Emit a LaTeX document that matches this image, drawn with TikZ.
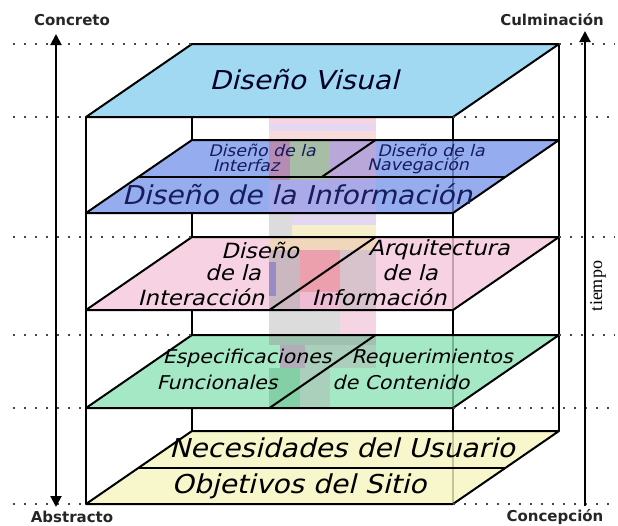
\documentclass[tikz,border=0pt]{standalone}
\usepackage{fontspec}
\setmainfont{DejaVu Sans}
\newfontfamily\planefont[FakeSlant=0.25,FakeStretch=1.08]{DejaVu Sans}
\newfontfamily\labelfont{DejaVu Sans}
\newfontfamily\timefont{Liberation Serif}
\usetikzlibrary{arrows.meta,calc}

% layer colours
\definecolor{visualblue}{RGB}{137,208,240}
\definecolor{infoblue}{RGB}{122,152,234}
\definecolor{interpink}{RGB}{245,199,219}
\definecolor{specgreen}{RGB}{143,226,182}
\definecolor{needyellow}{RGB}{245,245,190}
\definecolor{navytext}{RGB}{22,28,92}

% colours of the strip running down through the layers
\definecolor{sPink}{RGB}{232,160,196}
\definecolor{sLav}{RGB}{196,166,226}
\definecolor{sPeach}{RGB}{240,176,176}
\definecolor{sRed}{RGB}{224,100,110}
\definecolor{sLime}{RGB}{190,210,80}
\definecolor{sGray}{RGB}{150,150,150}
\definecolor{sLgray}{RGB}{178,178,178}
\definecolor{sYel}{RGB}{232,220,140}
\definecolor{sBlue}{RGB}{90,90,200}
\definecolor{sPurp}{RGB}{190,100,170}
\definecolor{sGreen}{RGB}{90,180,130}

% corners of one layer: name, y of its front edge
\newcommand\layercorners[2]{%
  \coordinate (#1fl) at (86,#2);
  \coordinate (#1fr) at (453,#2);
  \coordinate (#1br) at (559,#2-73);
  \coordinate (#1bl) at (192,#2-73);
}

\begin{document}
\begin{tikzpicture}[x=1pt,y=-1pt,
  layer/.style={draw=black, line width=2pt, line join=round},
  layerfill/.style={fill opacity=0.8},
  edge/.style={draw=black, line width=1.6pt},
  guide/.style={draw=black!72, line width=2.6pt, dash pattern=on 2.4pt off 8.6pt},
  strip/.style={opacity=0.45},
  bothtips/.style={line width=2pt,
    {Triangle[length=11pt,width=11pt]}-{Triangle[length=11pt,width=11pt]}},
  uptip/.style={line width=2pt, -{Triangle[length=11pt,width=11pt]}},
  tag/.style={font=\labelfont\bfseries\fontsize{15}{17}\selectfont,
    text=black!85, inner sep=0pt},
  bigtxt/.style={font=\planefont\fontsize{26}{28}\selectfont, inner sep=0pt},
  midtxt/.style={font=\planefont\fontsize{21}{23}\selectfont, inner sep=0pt},
  greentxt/.style={font=\planefont\fontsize{19}{21}\selectfont, inner sep=0pt},
  smalltxt/.style={font=\planefont\fontsize{16}{18}\selectfont, inner sep=0pt,
    text=navytext},
]
\useasboundingbox (0,0) rectangle (618,525);

\layercorners{a}{117}
\layercorners{b}{213}
\layercorners{c}{310}
\layercorners{d}{408}
\layercorners{e}{504}

% half-way lines and split points
\coordinate (bml) at ($(bfl)!0.5!(bbl)$);
\coordinate (bmr) at ($(bfr)!0.5!(bbr)$);
\coordinate (bmc) at ($(bml)!0.5!(bmr)$);
\coordinate (bbc) at ($(bbl)!0.5!(bbr)$);
\coordinate (cfc) at ($(cfl)!0.5!(cfr)$);
\coordinate (cbc) at ($(cbl)!0.5!(cbr)$);
\coordinate (dfc) at ($(dfl)!0.5!(dfr)$);
\coordinate (dbc) at ($(dbl)!0.5!(dbr)$);
\coordinate (eml) at ($(efl)!0.5!(ebl)$);
\coordinate (emr) at ($(efr)!0.5!(ebr)$);

% hidden back edge, seen only between the layers
\coordinate (k1) at (192,117);
\coordinate (k2) at (192,213);
\coordinate (k3) at (192,310);
\coordinate (k4) at (192,408);
\draw[edge] (k1) -- (bbl);
\draw[edge] (k2) -- (cbl);
\draw[edge] (k3) -- (dbl);
\draw[edge] (k4) -- (ebl);
\draw[edge] (abr) -- (ebr);
\draw[edge] (afr) -- (efr);

% layer fills
\fill[visualblue, layerfill] (afl) -- (afr) -- (abr) -- (abl) -- cycle;
\fill[infoblue, layerfill] (bfl) -- (bfr) -- (bbr) -- (bbl) -- cycle;
\fill[interpink, layerfill] (cfl) -- (cfr) -- (cbr) -- (cbl) -- cycle;
\fill[specgreen, layerfill] (dfl) -- (dfr) -- (dbr) -- (dbl) -- cycle;
\fill[needyellow, layerfill] (efl) -- (efr) -- (ebr) -- (ebl) -- cycle;

% colour strip, built from blocks
\begin{scope}[strip]
  \fill[sPink]  (269,117) rectangle (376,124);
  \fill[sLav]   (269,124) rectangle (376,131);
  \fill[sPeach] (269,131) rectangle (376,141);
  \fill[sRed]   (269,141) rectangle (290,180);
  \fill[sLime]  (290,141) rectangle (330,180);
  \fill[sPink]  (330,141) rectangle (376,180);
  \fill[sLav]   (269,180) rectangle (376,213);
  \fill[sLgray] (269,213) rectangle (292,237);
  \fill[sLav]   (292,213) rectangle (376,225);
  \fill[sYel]   (292,225) rectangle (376,237);
  \fill[sYel]   (269,237) rectangle (376,250);
  \fill[sGray]  (269,250) rectangle (300,310);
  \fill[sBlue]  (269,262) rectangle (276,296);
  \fill[sRed]   (300,250) rectangle (340,292);
  \fill[sLgray] (340,250) rectangle (376,310);
  \fill[sPink]  (300,292) rectangle (340,310);
  \fill[sLgray] (269,310) rectangle (340,335);
  \fill[sPink]  (340,310) rectangle (376,335);
  \fill[sGray]  (269,335) rectangle (376,345);
  \fill[sPurp]  (280,345) rectangle (305,368);
  \fill[sLgray] (305,345) rectangle (376,368);
  \fill[sGreen] (269,368) rectangle (300,408);
  \fill[sLgray] (300,368) rectangle (330,408);
\end{scope}

% layer outlines and dividers
\draw[layer] (afl) -- (afr) -- (abr) -- (abl) -- cycle;
\draw[layer] (bfl) -- (bfr) -- (bbr) -- (bbl) -- cycle;
\draw[layer] (bml) -- (bmr);
\draw[layer] (bmc) -- (bbc);
\draw[layer] (cfl) -- (cfr) -- (cbr) -- (cbl) -- cycle;
\draw[layer] (cfc) -- (cbc);
\draw[layer] (dfl) -- (dfr) -- (dbr) -- (dbl) -- cycle;
\draw[layer] (dfc) -- (dbc);
\draw[layer] (efl) -- (efr) -- (ebr) -- (ebl) -- cycle;
\draw[layer] (eml) -- (emr);

% front edge of the box
\draw[edge] (afl) -- (efl);

% dotted level guides
\coordinate (gl1) at (13,44);   \coordinate (gr1) at (615,44);
\coordinate (gl2) at (13,117);  \coordinate (gr2) at (615,117);
\coordinate (gl3) at (13,237);  \coordinate (gr3) at (615,237);
\coordinate (gl4) at (13,335);  \coordinate (gr4) at (615,335);
\coordinate (gl5) at (13,408);  \coordinate (gr5) at (615,408);
\coordinate (gl6) at (13,504);  \coordinate (gr6) at (615,504);
\draw[guide] (gl1) -- (abl);  \draw[guide] (abr) -- (gr1);
\draw[guide] (gl2) -- (afl);  \draw[guide] (afr) -- (gr2);
\draw[guide] (gl3) -- (cbl);  \draw[guide] (cbr) -- (gr3);
\draw[guide] (gl4) -- (dbl);  \draw[guide] (dbr) -- (gr4);
\draw[guide] (gl5) -- (dfl);  \draw[guide] (dfr) -- (gr5);
\draw[guide] (gl6) -- (efl);  \draw[guide] (efr) -- (gr6);

% axes
\coordinate (ltop) at (56,34);
\coordinate (lbot) at (56,507);
\coordinate (rtop) at (585,31);
\coordinate (rbot) at (585,506);
\draw[bothtips] (lbot) -- (ltop);
\draw[uptip] (rbot) -- (rtop);

\node[tag] (concreto) at (72,20) {Concreto};
\node[tag] (culmina) at (552,20) {Culminación};
\node[tag] (abstracto) at (72,517) {Abstracto};
\node[tag] (concepcion) at (555,517) {Concepción};
\node[rotate=90, font=\timefont\fontsize{18}{20}\selectfont, inner sep=0pt]
  (tiempo) at (598,286) {tiempo};

% layer titles
\node[bigtxt, text=black!85!blue] (visual) at (304,80) {Diseño Visual};

\node[smalltxt] (interfaz1) at (262,150) {Diseño de la};
\node[smalltxt] (interfaz2) at (246,166) {Interfaz};
\node[smalltxt] (nave1) at (431,150) {Diseño de la};
\node[smalltxt] (nave2) at (418,166) {Navegación};
\node[bigtxt, text=navytext] (informa) at (297,194) {Diseño de la Información};

\node[midtxt] (inter1) at (260,250) {Diseño};
\node[midtxt] (inter2) at (233,273) {de la};
\node[midtxt] (inter3) at (201,297) {Interacción};
\node[midtxt] (arqui1) at (439,250) {Arquitectura};
\node[midtxt] (arqui2) at (410,273) {de la};
\node[midtxt] (arqui3) at (379,297) {Información};

\node[greentxt] (espec1) at (247,358) {Especificaciones};
\node[greentxt] (espec2) at (217,382) {Funcionales};
\node[greentxt] (reque1) at (432,358) {Requerimientos};
\node[greentxt] (reque2) at (401,382) {de Contenido};

\node[bigtxt] (necesidad) at (342,448) {Necesidades del Usuario};
\node[bigtxt] (objetivo) at (299,486) {Objetivos del Sitio};
\end{tikzpicture}
\end{document}
